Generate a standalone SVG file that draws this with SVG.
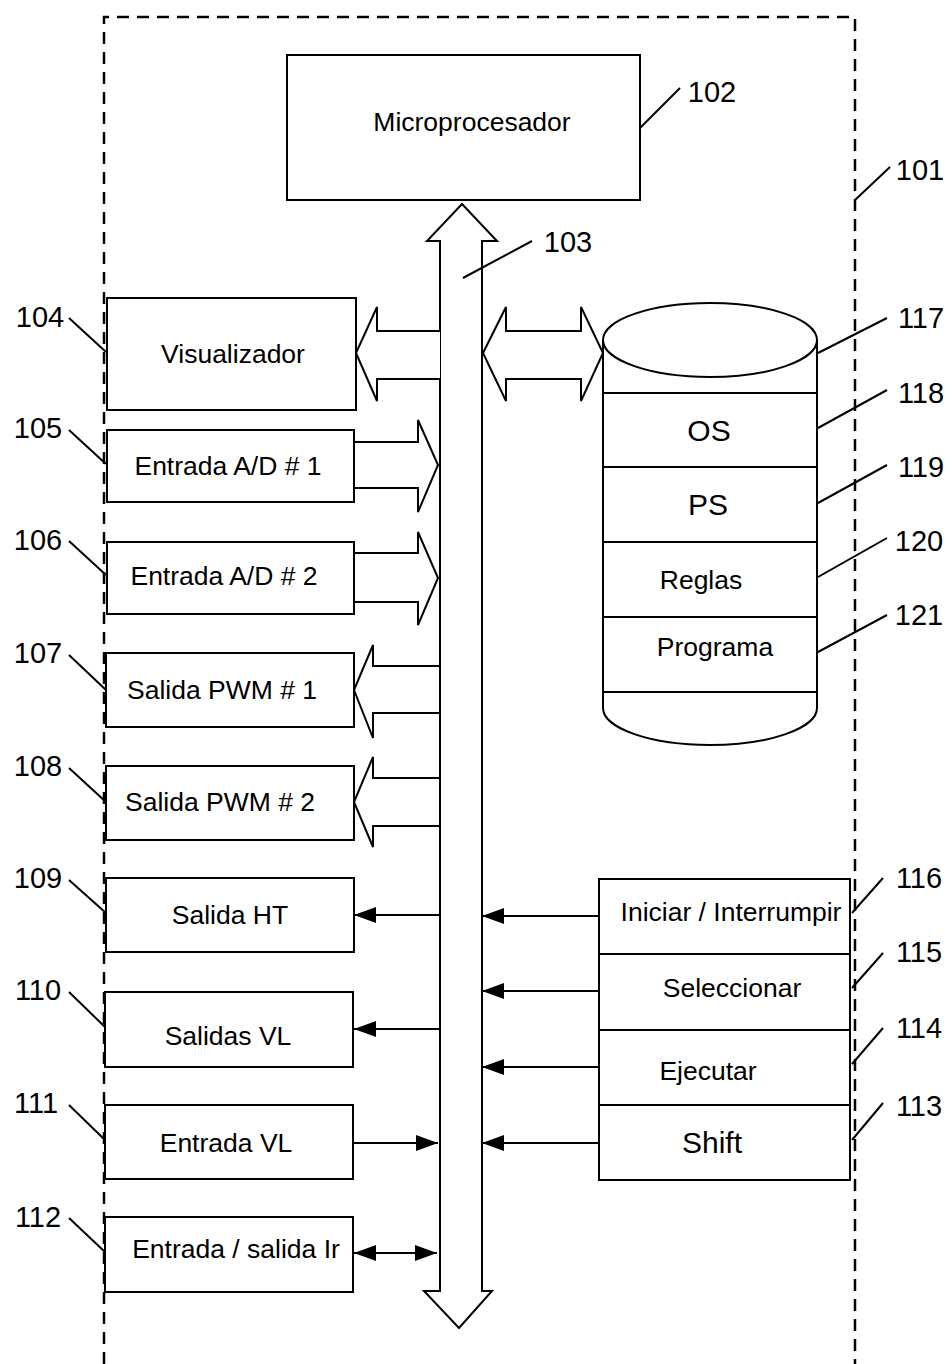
<svg xmlns="http://www.w3.org/2000/svg" width="952" height="1364" viewBox="0 0 952 1364">
<defs>
<style>
.box{fill:#fff;stroke:#000;stroke-width:2}
.ln{fill:none;stroke:#000;stroke-width:2}
.big{fill:#fff;stroke:#000;stroke-width:2;stroke-linejoin:miter}
.t{font-family:"Liberation Sans",Arial,sans-serif;font-size:26.5px;fill:#000;text-anchor:middle}
.n{font-family:"Liberation Sans",Arial,sans-serif;font-size:29px;fill:#000;text-anchor:middle}
.frame{fill:none;stroke:#000;stroke-width:2.5;stroke-dasharray:12 8}
</style>
<marker id="ah" markerWidth="22" markerHeight="16" refX="22" refY="8" orient="auto" markerUnits="userSpaceOnUse">
<path d="M0,0 L22,8 L0,16 Z" fill="#000"/>
</marker>
<marker id="ahs" markerWidth="22" markerHeight="16" refX="0" refY="8" orient="auto" markerUnits="userSpaceOnUse">
<path d="M22,0 L0,8 L22,16 Z" fill="#000"/>
</marker>
</defs>
<rect width="952" height="1364" fill="#fff"/>

<g id="frame101">
<path class="frame" d="M104,1364 L104,17 L855,17 L855,1364"/>
</g>

<g id="connectors">
<path id="bus103" class="big" d="M440,1291 L440,241 L427,241 L462,204 L497,241 L482,241 L482,1291 L492,1291 L459,1328 L424,1291 Z"/>
<path class="big" d="M440,331 L377,331 L377,307 L356,353 L377,401 L377,379 L440,379"/>
<path class="big" d="M483,353 L506,307 L506,331 L581,331 L581,307 L603,353 L581,401 L581,379 L506,379 L506,401 Z"/>
<path class="big" d="M354,442 L418,442 L418,420 L438,465 L418,512 L418,488 L354,488"/>
<path class="big" d="M354,553 L418,553 L418,532 L438,578 L418,625 L418,602 L354,602"/>
<path class="big" d="M439,666 L373,666 L373,645 L354,690 L373,738 L373,713 L439,713"/>
<path class="big" d="M439,778 L373,778 L373,757 L354,802 L373,847 L373,826 L439,826"/>
<line class="ln" x1="439" y1="915" x2="354" y2="915" marker-end="url(#ah)"/>
<line class="ln" x1="439" y1="1029" x2="354" y2="1029" marker-end="url(#ah)"/>
<line class="ln" x1="353" y1="1143" x2="438" y2="1143" marker-end="url(#ah)"/>
<line class="ln" x1="354" y1="1253" x2="437" y2="1253" marker-start="url(#ahs)" marker-end="url(#ah)"/>
<line class="ln" x1="599" y1="916" x2="482" y2="916" marker-end="url(#ah)"/>
<line class="ln" x1="599" y1="991" x2="482" y2="991" marker-end="url(#ah)"/>
<line class="ln" x1="599" y1="1067" x2="482" y2="1067" marker-end="url(#ah)"/>
<line class="ln" x1="599" y1="1143" x2="482" y2="1143" marker-end="url(#ah)"/>
</g>

<g id="n102">
<rect class="box" x="287" y="55" width="353" height="145"/>
<text class="t" x="472" y="131">Microprocesador</text>
</g>

<g id="n104"><rect class="box" x="107" y="298" width="249" height="112"/><text class="t" x="233" y="363">Visualizador</text></g>
<g id="n105"><rect class="box" x="107" y="430" width="247" height="72"/><text class="t" x="228" y="475">Entrada A/D # 1</text></g>
<g id="n106"><rect class="box" x="107" y="542" width="247" height="72"/><text class="t" x="224" y="585">Entrada A/D # 2</text></g>
<g id="n107"><rect class="box" x="106" y="653" width="248" height="74"/><text class="t" x="222" y="699">Salida PWM # 1</text></g>
<g id="n108"><rect class="box" x="106" y="766" width="248" height="74"/><text class="t" x="220" y="811">Salida PWM # 2</text></g>
<g id="n109"><rect class="box" x="106" y="878" width="248" height="74"/><text class="t" x="230" y="924">Salida HT</text></g>
<g id="n110"><rect class="box" x="105" y="992" width="248" height="75"/><text class="t" x="228" y="1045">Salidas VL</text></g>
<g id="n111"><rect class="box" x="105" y="1105" width="248" height="74"/><text class="t" x="226" y="1152">Entrada VL</text></g>
<g id="n112"><rect class="box" x="105" y="1217" width="248" height="75"/><text class="t" x="236" y="1258">Entrada / salida Ir</text></g>

<g id="n117">
<path class="box" d="M603,340 L603,708 A107,37 0 0 0 817,708 L817,340"/>
<ellipse class="box" cx="710" cy="340" rx="107" ry="37"/>
<line class="ln" x1="603" y1="393" x2="817" y2="393"/>
<line class="ln" x1="603" y1="467" x2="817" y2="467"/>
<line class="ln" x1="603" y1="542" x2="817" y2="542"/>
<line class="ln" x1="603" y1="617" x2="817" y2="617"/>
<line class="ln" x1="603" y1="692" x2="817" y2="692"/>
<text class="t" x="709" y="441" style="font-size:30px">OS</text>
<text class="t" x="708" y="515" style="font-size:30px">PS</text>
<text class="t" x="701" y="589">Reglas</text>
<text class="t" x="715" y="656">Programa</text>
</g>

<g id="n113-116">
<rect class="box" x="599" y="879" width="251" height="301"/>
<line class="ln" x1="599" y1="954" x2="850" y2="954"/>
<line class="ln" x1="599" y1="1030" x2="850" y2="1030"/>
<line class="ln" x1="599" y1="1105" x2="850" y2="1105"/>
<text class="t" x="731" y="921">Iniciar / Interrumpir</text>
<text class="t" x="732" y="997">Seleccionar</text>
<text class="t" x="708" y="1080">Ejecutar</text>
<text class="t" x="712" y="1153" style="font-size:30px">Shift</text>
</g>

<g id="labels">
<line class="ln" x1="640" y1="128" x2="680" y2="88"/>
<text class="n" x="712" y="102">102</text>
<line class="ln" x1="855" y1="200" x2="890" y2="167"/>
<text class="n" x="920" y="180">101</text>
<line class="ln" x1="463" y1="278" x2="532" y2="241"/>
<text class="n" x="568" y="252">103</text>
<line class="ln" x1="818" y1="353" x2="887" y2="318"/>
<text class="n" x="921" y="328">117</text>
<line class="ln" x1="818" y1="428" x2="887" y2="390"/>
<text class="n" x="921" y="403">118</text>
<line class="ln" x1="818" y1="503" x2="887" y2="465"/>
<text class="n" x="921" y="477">119</text>
<line class="ln" x1="818" y1="577" x2="887" y2="538"/>
<text class="n" x="919" y="551">120</text>
<line class="ln" x1="818" y1="652" x2="887" y2="615"/>
<text class="n" x="919" y="625">121</text>
<line class="ln" x1="852" y1="913" x2="883" y2="878"/>
<text class="n" x="919" y="888">116</text>
<line class="ln" x1="852" y1="988" x2="883" y2="953"/>
<text class="n" x="919" y="962">115</text>
<line class="ln" x1="852" y1="1064" x2="883" y2="1028"/>
<text class="n" x="919" y="1038">114</text>
<line class="ln" x1="852" y1="1140" x2="883" y2="1103"/>
<text class="n" x="919" y="1116">113</text>
<line class="ln" x1="69" y1="318" x2="106" y2="352"/>
<text class="n" x="40" y="327">104</text>
<line class="ln" x1="69" y1="430" x2="106" y2="464"/>
<text class="n" x="38" y="438">105</text>
<line class="ln" x1="69" y1="541" x2="106" y2="575"/>
<text class="n" x="38" y="550">106</text>
<line class="ln" x1="69" y1="655" x2="106" y2="690"/>
<text class="n" x="38" y="663">107</text>
<line class="ln" x1="69" y1="768" x2="106" y2="802"/>
<text class="n" x="38" y="776">108</text>
<line class="ln" x1="69" y1="880" x2="106" y2="913"/>
<text class="n" x="38" y="888">109</text>
<line class="ln" x1="69" y1="992" x2="105" y2="1027"/>
<text class="n" x="38" y="1000">110</text>
<line class="ln" x1="69" y1="1105" x2="105" y2="1140"/>
<text class="n" x="36" y="1113">111</text>
<line class="ln" x1="69" y1="1218" x2="105" y2="1252"/>
<text class="n" x="38" y="1227">112</text>
</g>
</svg>
